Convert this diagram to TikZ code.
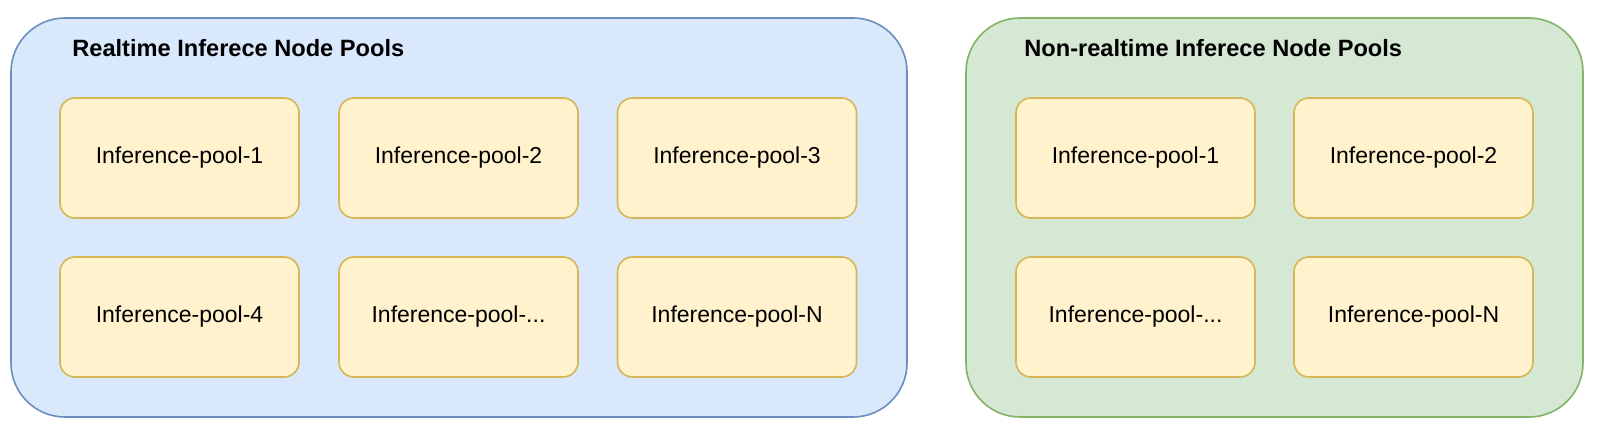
\documentclass[tikz,border=0pt]{standalone}
\usepackage{fontspec}
\setmainfont{Liberation Sans}
\usepackage{xcolor}
\usepackage{tikz}
\usetikzlibrary{positioning}

\definecolor{rtfill}{HTML}{DAE8FC}
\definecolor{rtline}{HTML}{6C8EBF}
\definecolor{nrtfill}{HTML}{D5E8D4}
\definecolor{nrtline}{HTML}{82B366}
\definecolor{poolfill}{HTML}{FFF2CC}
\definecolor{poolline}{HTML}{D6B656}

\tikzset{
    panel/.style={draw, line width=0.8pt, rounded corners=27pt, inner sep=0pt,
        minimum height=199.5pt},
    pool/.style={draw=poolline, fill=poolfill, line width=0.8pt, rounded corners=7.5pt,
        minimum width=119.5pt, minimum height=60pt, inner sep=0pt,
        font=\fontsize{11.5}{14}\selectfont},
    paneltitle/.style={anchor=base west, inner sep=0pt, font=\bfseries\fontsize{11.8}{14}\selectfont}
}

\begin{document}
\begin{tikzpicture}[x=0.5pt, y=-0.5pt]
    \useasboundingbox (0,0) rectangle (1600,438);

    % Draw Panels
    \node[panel, draw=rtline, fill=rtfill, minimum width=448pt] (rtpanel) at (459,217.5) {};
    \node[panel, draw=nrtline, fill=nrtfill, minimum width=308.5pt] (nrtpanel) at (1274.5,217.5) {};

    % Panel titles
    \node[paneltitle] (rttitle) at (72,57) {Realtime Inferece Node Pools};
    \node[paneltitle] (nrttitle) at (1024,57) {Non-realtime Inferece Node Pools};

    % Realtime pools
    \node[pool] (rt1) at (179.5,158) {Inference-pool-1};
    \node[pool] (rt2) at (458.5,158) {Inference-pool-2};
    \node[pool] (rt3) at (737,158) {Inference-pool-3};
    \node[pool] (rt4) at (179.5,317) {Inference-pool-4};
    \node[pool] (rtdots) at (458.5,317) {Inference-pool-...};
    \node[pool] (rtN) at (737,317) {Inference-pool-N};

    % Non-realtime pools
    \node[pool] (nrt1) at (1135.5,158) {Inference-pool-1};
    \node[pool] (nrt2) at (1413.5,158) {Inference-pool-2};
    \node[pool] (nrtdots) at (1135.5,317) {Inference-pool-...};
    \node[pool] (nrtN) at (1413.5,317) {Inference-pool-N};

\end{tikzpicture}
\end{document}
